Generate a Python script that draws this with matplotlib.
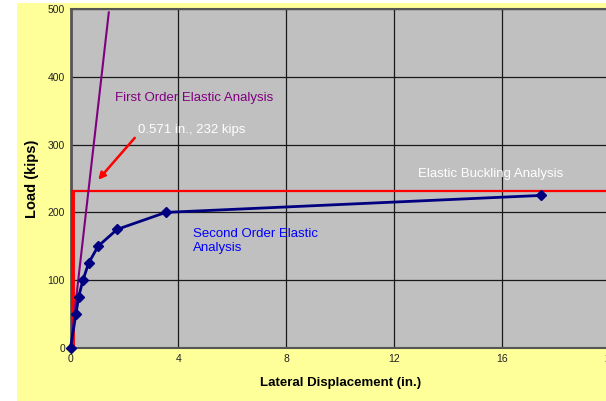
import matplotlib
matplotlib.use('Agg')
import matplotlib.pyplot as plt
from matplotlib.patches import Rectangle

plt.rcParams['font.family'] = ['Liberation Sans', 'DejaVu Sans']

# second order elastic analysis
disp_2nd = [0, 0.2, 0.3, 0.46, 0.67, 1.02, 1.73, 3.53, 17.43]
load_2nd = [0, 50, 75, 100, 125, 150, 175, 200, 225]

# first order elastic analysis
disp_1st = [0, 1.42]
load_1st = [0, 495]

# elastic buckling
buckle_load = 232
buckle_disp = [0.05, 0.05, 20]
buckle_y = [0, buckle_load, buckle_load]

xticks = [0, 4, 8, 12, 16, 20]
yticks = [0, 100, 200, 300, 400, 500]

W, H = 606, 401
fig = plt.figure(figsize=(W / 100, H / 100), dpi=100)
fig.patch.set_facecolor('white')
fig.patches.append(Rectangle((17 / W, 0), 1, (H - 3) / H, transform=fig.transFigure,
                             facecolor='#ffff99', edgecolor='none', zorder=-10))

ax = fig.add_axes([70.5 / W, (H - 348) / H, (610 - 70.5) / W, (348 - 9) / H])
ax.set_facecolor('#c0c0c0')
ax.set_xlim(0, 20)
ax.set_ylim(0, 500)
ax.set_xticks(xticks)
ax.set_yticks(yticks)
ax.tick_params(labelsize=7.5, length=0, pad=4, colors='#222222')
ax.grid(True, color='#1a1a1a', linewidth=0.9)
ax.set_axisbelow(True)
for s in ax.spines.values():
    s.set_color('#555555')
    s.set_linewidth(1.5)
ax.spines['left'].set_linewidth(2)

ax.plot(buckle_disp[:2], buckle_y[:2], color='red', lw=3.5, zorder=3, solid_capstyle='butt')
ax.plot(buckle_disp[1:], buckle_y[1:], color='red', lw=1.6, zorder=3)
ax.plot(disp_1st, load_1st, color='#800080', lw=1.5, zorder=4)
ax.plot(disp_2nd, load_2nd, color='#000080', lw=2, marker='D', markersize=5, zorder=5,
        clip_on=False)

ax.text(1.65, 369, 'First Order Elastic Analysis', color='#800080', fontsize=9.5, va='center')
ax.text(2.5, 322, '0.571 in., 232 kips', color='white', fontsize=9.5, va='center')
ax.text(12.9, 256, 'Elastic Buckling Analysis', color='white', fontsize=9.5, va='center')
ax.text(4.55, 158, 'Second Order Elastic\nAnalysis', color='blue', fontsize=9.5, va='center',
        linespacing=1.25)
ax.annotate('', xy=(0.96, 245), xytext=(2.45, 313),
            arrowprops=dict(arrowstyle='-|>', color='red', lw=1.8, mutation_scale=10))

ax.set_xlabel('Lateral Displacement (in.)', fontsize=9.5, fontweight='bold', labelpad=10)
ax.set_ylabel('Load (kips)', fontsize=10.5, fontweight='bold', labelpad=6)

fig.savefig('out.png', dpi=100)
